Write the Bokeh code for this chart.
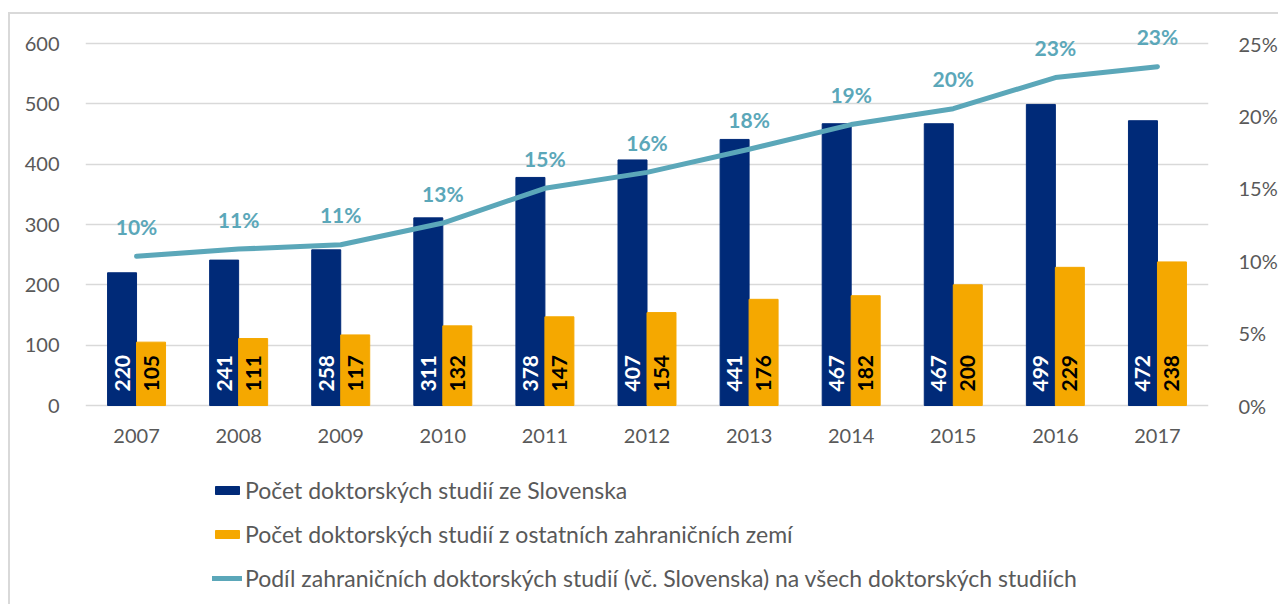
import math
from bokeh.plotting import figure
from bokeh.models import (Range1d, LinearAxis, FixedTicker, ColumnDataSource, Legend,
                          LegendItem)
from bokeh.core.properties import value
from bokeh.embed import file_html
from bokeh.resources import INLINE

years = ["2007", "2008", "2009", "2010", "2011", "2012", "2013", "2014", "2015", "2016", "2017"]
slovakia = [220, 241, 258, 311, 378, 407, 441, 467, 467, 499, 472]
others = [105, 111, 117, 132, 147, 154, 176, 182, 200, 229, 238]
share_pct = [10.3, 10.8, 11.1, 12.6, 15.0, 16.1, 17.7, 19.4, 20.5, 22.65, 23.4]
share_labels = ["10%", "11%", "11%", "13%", "15%", "16%", "18%", "19%", "20%", "23%", "23%"]

left_ticks = [0, 100, 200, 300, 400, 500, 600]
right_ticks = [0, 5, 10, 15, 20, 25]

legend_labels = [
    "Počet doktorských studií ze Slovenska",
    "Počet doktorských studií z ostatních zahraničních zemí",
    "Podíl zahraničních doktorských studií (vč. Slovenska) na všech doktorských studiích",
]

NAVY = "#002A78"
ORANGE = "#F5A800"
TEAL = "#5BA7B9"
GRID = "#D9D9D9"
TXT = "#595959"
FONT = "Lato"

idx = list(range(len(years)))
bw = 0.284
src = ColumnDataSource(dict(
    x=idx,
    xs=[i - bw / 2 for i in idx],
    xo=[i + bw / 2 for i in idx],
    s=slovakia, o=others,
    s_txt=[str(v) for v in slovakia], o_txt=[str(v) for v in others],
    pct=share_pct, pct_txt=share_labels,
    zero=[0] * len(idx), year=years,
))

# frame: 362 px for 0..600, with headroom above and room below for labels + legend
W, H = 1270, 592
px_per_unit = 362 / 600
y_top = 600 + 23 / px_per_unit
y_bot = -201 / px_per_unit
p = figure(width=W, height=H, output_backend="svg", toolbar_location=None,
           x_range=Range1d(-0.5, 10.5), y_range=Range1d(y_bot, y_top),
           min_border_left=75, min_border_right=69, min_border_top=6, min_border_bottom=0)
p.outline_line_color = None
p.background_fill_color = "white"
p.border_fill_color = "white"
p.styles = {"margin-left": "8px", "margin-top": "12px",
            "border-top": "2px solid #D9D9D9", "border-left": "2px solid #D9D9D9"}

p.extra_y_ranges = {"pct": Range1d(y_bot * 25 / 600, y_top * 25 / 600)}

p.xaxis.visible = False
p.yaxis.ticker = FixedTicker(ticks=left_ticks)
ya = p.yaxis[0]
ya.axis_line_color = None
ya.major_tick_line_color = None
ya.minor_tick_line_color = None
ya.major_label_text_font = FONT
ya.major_label_text_font_size = "20px"
ya.major_label_text_color = TXT
ya.major_label_standoff = 20

ra = LinearAxis(y_range_name="pct", ticker=FixedTicker(ticks=right_ticks))
ra.major_label_overrides = {v: f"{v}%" for v in right_ticks}
ra.axis_line_color = None
ra.major_tick_line_color = None
ra.minor_tick_line_color = None
ra.major_label_text_font = FONT
ra.major_label_text_font_size = "20px"
ra.major_label_text_color = TXT
ra.major_label_standoff = 24
p.add_layout(ra, "right")

p.xgrid.grid_line_color = None
p.ygrid.grid_line_color = GRID
p.ygrid.grid_line_width = 1.5

# category labels under the axis
p.text(x="x", y="zero", text="year", source=src, text_align="center", text_baseline="top",
       y_offset=23, text_font=value(FONT), text_font_size="20px", text_color=TXT)

# bars
rs = p.vbar(x="xs", top="s", width=bw, source=src, fill_color=NAVY, line_color=NAVY)
ro = p.vbar(x="xo", top="o", width=bw, source=src, fill_color=ORANGE, line_color=ORANGE)

# bar labels (rotated)
p.text(x="xs", y="zero", text="s_txt", source=src, angle=math.pi / 2,
       text_align="left", text_baseline="middle", y_offset=-14,
       text_font=value(FONT), text_font_style="bold", text_font_size="21px", text_color="white")
p.text(x="xo", y="zero", text="o_txt", source=src, angle=math.pi / 2,
       text_align="left", text_baseline="middle", y_offset=-14,
       text_font=value(FONT), text_font_style="bold", text_font_size="21px", text_color="black")

# line
rl = p.line(x="x", y="pct", source=src, y_range_name="pct", line_color=TEAL, line_width=5,
            line_cap="round", line_join="round")
p.text(x="x", y="pct", text="pct_txt", source=src, y_range_name="pct",
       text_align="center", text_baseline="alphabetic", y_offset=-30,
       text_font=value(FONT), text_font_style="bold", text_font_size="21px", text_color=TEAL)

# legend
legend = Legend(items=[LegendItem(label=legend_labels[0], renderers=[rs]),
                       LegendItem(label=legend_labels[1], renderers=[ro]),
                       LegendItem(label=legend_labels[2], renderers=[rl])],
                location=(127, 14), orientation="vertical",
                label_text_font=FONT, label_text_font_size="23px", label_text_color=TXT,
                glyph_width=30, glyph_height=10, label_standoff=3, spacing=16,
                padding=0, margin=0, border_line_color=None, background_fill_alpha=0)
p.add_layout(legend, "center")

open("out.html", "w").write(file_html(p, INLINE))
